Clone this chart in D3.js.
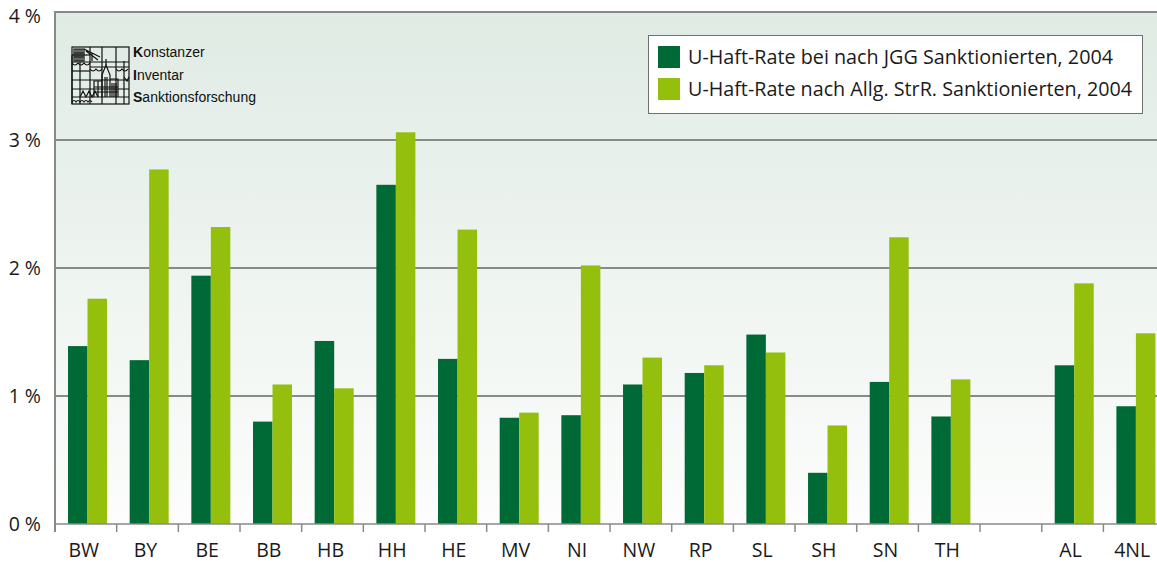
<!DOCTYPE html>
<html>
<head>
<meta charset="utf-8">
<script src="https://cdn.jsdelivr.net/npm/d3@7"></script>
<style>
  html, body { margin: 0; padding: 0; background: #ffffff; }
  svg { display: block; }
</style>
</head>
<body>
<svg id="chart" width="1157" height="562"></svg>
<script>
// Bundesländer plus the two aggregates; the empty slot separates them
const categories = ["BW","BY","BE","BB","HB","HH","HE","MV","NI","NW","RP","SL","SH","SN","TH","","AL","4NL"];
// Pre-trial detention rate (%) among persons sanctioned under juvenile law (JGG), 2004
const jggRates  = [1.39,1.28,1.94,0.80,1.43,2.65,1.29,0.83,0.85,1.09,1.18,1.48,0.40,1.11,0.84,null,1.24,0.92];
// Pre-trial detention rate (%) among persons sanctioned under general criminal law, 2004
const strRates  = [1.76,2.77,2.32,1.09,1.06,3.06,2.30,0.87,2.02,1.30,1.24,1.34,0.77,2.24,1.13,null,1.88,1.49];
const seriesNames = [
  "U-Haft-Rate bei nach JGG Sanktionierten, 2004",
  "U-Haft-Rate nach Allg. StrR. Sanktionierten, 2004"
];
const yTicks = [0,1,2,3,4];
const logoLines = ["Konstanzer","Inventar","Sanktionsforschung"];

const colors = ["#006a36", "#94bf0d"];
const gridColor = "#878b88";
const font = "'Open Sans', 'Noto Sans', sans-serif";

const svg = d3.select("#chart");
const plot = { left: 55, top: 12, bottom: 524, band: 61.67 };
const plotRight = plot.left + plot.band * categories.length;

const x = d3.scaleBand()
  .domain(d3.range(categories.length))
  .range([plot.left, plotRight])
  .paddingInner(0).paddingOuter(0);
const y = d3.scaleLinear().domain([0, 4]).range([plot.bottom, plot.top]);

// background gradient of the plot area
const defs = svg.append("defs");
const grad = defs.append("linearGradient").attr("id", "bg")
  .attr("x1", 0).attr("y1", 0).attr("x2", 0).attr("y2", 1);
grad.append("stop").attr("offset", "0%").attr("stop-color", "#e0ebe4");
grad.append("stop").attr("offset", "100%").attr("stop-color", "#fcfdfc");

svg.append("rect")
  .attr("x", plot.left).attr("y", y(4))
  .attr("width", plotRight - plot.left).attr("height", y(0) - y(4))
  .attr("fill", "url(#bg)");

// horizontal gridlines
svg.append("g").selectAll("line")
  .data(yTicks.filter(d => d > 0))
  .join("line")
  .attr("x1", plot.left).attr("x2", plotRight)
  .attr("y1", d => y(d)).attr("y2", d => y(d))
  .attr("stroke", gridColor).attr("stroke-width", d => d === 4 ? 2 : 1.8);

// y tick labels
svg.append("g").selectAll("text")
  .data(yTicks)
  .join("text")
  .attr("x", 41).attr("y", d => y(d) + (d === 4 ? 11 : 6.5))
  .attr("text-anchor", "end")
  .attr("font-family", font).attr("font-size", 19.5)
  .attr("fill", "#1a1a1a")
  .text(d => d + " %");

// bars
const inner = d3.scaleBand().domain([0, 1])
  .range([13, 13 + 39]);
const groups = svg.append("g").selectAll("g")
  .data(categories.map((c, i) => ({ c, i, v: [jggRates[i], strRates[i]] })))
  .join("g")
  .attr("transform", d => `translate(${x(d.i)},0)`);
groups.selectAll("rect")
  .data(d => d.v.map((v, s) => ({ v, s })).filter(e => e.v != null))
  .join("rect")
  .attr("x", e => inner(e.s))
  .attr("width", inner.bandwidth())
  .attr("y", e => y(e.v))
  .attr("height", e => y(0) - y(e.v))
  .attr("fill", e => colors[e.s]);

// x axis with ticks between categories
const axisG = svg.append("g");
axisG.append("line")
  .attr("x1", plot.left).attr("x2", plotRight)
  .attr("y1", plot.bottom).attr("y2", plot.bottom)
  .attr("stroke", gridColor).attr("stroke-width", 1.5);
axisG.selectAll("line.tick")
  .data(d3.range(categories.length + 1))
  .join("line").attr("class", "tick")
  .attr("x1", i => plot.left + i * x.bandwidth())
  .attr("x2", i => plot.left + i * x.bandwidth())
  .attr("y1", plot.bottom).attr("y2", plot.bottom + 8)
  .attr("stroke", gridColor).attr("stroke-width", 1.5);
axisG.selectAll("text")
  .data(categories.map((c, i) => ({ c, i })))
  .join("text")
  .attr("x", d => x(d.i) + x.bandwidth() / 2 - 2)
  .attr("y", 557)
  .attr("text-anchor", "middle")
  .attr("font-family", font).attr("font-size", 19.5)
  .attr("fill", "#1a1a1a")
  .text(d => d.c);

// y axis line
svg.append("line")
  .attr("x1", plot.left).attr("x2", plot.left)
  .attr("y1", y(4) - 1).attr("y2", plot.bottom + 8)
  .attr("stroke", gridColor).attr("stroke-width", 2);

// legend
const lg = svg.append("g");
lg.append("rect")
  .attr("x", 648.5).attr("y", 35.5).attr("width", 494).attr("height", 78)
  .attr("fill", "#ffffff").attr("stroke", "#6f716f").attr("stroke-width", 1);
const legendTargets = [425, 444];
seriesNames.forEach((name, i) => {
  const yy = 46 + i * 32;
  lg.append("rect").attr("x", 658).attr("y", yy).attr("width", 22).attr("height", 22)
    .attr("fill", colors[i]);
  const t = lg.append("text")
    .attr("x", 688).attr("y", yy + 18)
    .attr("font-family", font).attr("font-size", 19.5)
    .attr("fill", "#1a1a1a")
    .text(name);
  const w = t.node().getComputedTextLength();
  if (w > 0) t.attr("textLength", legendTargets[i]).attr("lengthAdjust", "spacingAndGlyphs");
});

// institute logo: line-art grid with a church silhouette
const logo = svg.append("g").attr("transform", "translate(72,47)")
  .attr("fill", "none").attr("stroke", "#111").attr("stroke-width", 1.2);
logo.append("rect").attr("width", 57).attr("height", 57);
[[0,8,0,57],[18,0,18,57],[30,0,30,57],[44,0,44,57],[8,15,8,57],[52,14,52,57]]
  .forEach(p => logo.append("line").attr("x1", p[0]).attr("y1", p[1]).attr("x2", p[2]).attr("y2", p[3]));
[[0,15,57,15],[0,24,18,24],[18,20,57,20],[0,33,57,33],[0,42,57,42],[0,50,57,50],[0,8,18,8]]
  .forEach(p => logo.append("line").attr("x1", p[0]).attr("y1", p[1]).attr("x2", p[2]).attr("y2", p[3]));
// small hatch blocks
logo.append("path").attr("d", "M2 2 H12 V14 H2 Z M4 2 V14 M6 2 V14 M8 2 V14 M10 2 V14 M2 6 H12 M2 10 H12");
logo.append("path").attr("d", "M12 2 L28 10 M14 4 L26 13 M20 6 V14");
// arcs row
logo.append("path").attr("d", "M0 16 q3 4 6 0 q3 4 6 0 q3 4 6 0 M18 22 q3 4 6 0 q3 4 6 0 M44 22 q3 4 6 0 q3 4 6 0");
// church
logo.append("path").attr("d", "M30 50 V28 L34 18 L38 28 V50 M38 50 V32 H46 V50 M22 50 V34 H30 M26 34 V50 M33 30 V50 M35 30 V50 M40 36 V50 M42 36 V50 M44 36 V50 M22 40 H46 M22 45 H46");
logo.append("path").attr("d", "M34 12 V18 M52 30 l3 4 l2 -4");
// zigzag roofs
logo.append("path").attr("d", "M8 50 L11 44 L14 50 L17 44 L20 50 L23 44 L26 50");
logo.append("path").attr("d", "M0 55 q2 -3 4 0 q2 -3 4 0 q2 -3 4 0 q2 -3 4 0 q2 -3 4 0");

const logoText = svg.append("g").attr("font-family", "'Liberation Sans', Arial, sans-serif")
  .attr("font-size", 14).attr("fill", "#111");
logoLines.forEach((line, i) => {
  const t = logoText.append("text").attr("x", 133).attr("y", 57 + i * 22.5);
  t.append("tspan").attr("font-weight", "bold").text(line[0]);
  t.append("tspan").text(line.slice(1));
});
</script>
</body>
</html>
